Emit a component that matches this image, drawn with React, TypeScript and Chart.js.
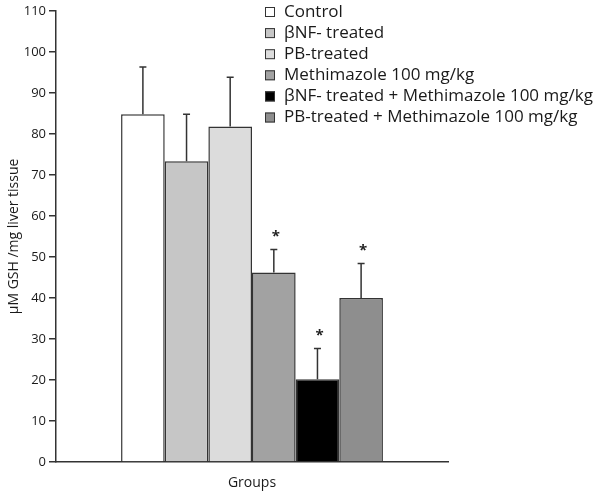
import React, { useEffect, useRef } from "react";
import { Chart, registerables } from "chart.js";

Chart.register(...registerables);

const groupLabels = ["Control", "βNF- treated", "PB-treated", "Methimazole 100 mg/kg", "βNF- treated + Methimazole 100 mg/kg", "PB-treated + Methimazole 100 mg/kg"];
const meanValues = [84.8, 73.3, 81.8, 46.2, 20.2, 40.0];
const errorValues = [11.5, 11.5, 12.0, 5.6, 7.5, 8.4];
const significant = [false, false, false, true, true, true];
const barColors = ["#ffffff", "#c6c6c6", "#dcdcdc", "#a2a2a2", "#000000", "#8e8e8e"];
const yTicks = [0, 10, 20, 30, 40, 50, 60, 70, 80, 90, 100, 110];

const FONT = "'Open Sans', 'Liberation Sans', sans-serif";
const INK = "#333333";

const errorBarPlugin = {
  id: "errorBars",
  afterDatasetsDraw(chart: any) {
    const ctx = chart.ctx;
    const y = chart.scales.y;
    ctx.save();
    chart.data.datasets.forEach((ds: any, i: number) => {
      const meta = chart.getDatasetMeta(i);
      const bar = meta.data[0];
      if (!bar) return;
      const x = bar.x;
      const yTop = y.getPixelForValue(meanValues[i]);
      const yErr = y.getPixelForValue(meanValues[i] + errorValues[i]);
      ctx.strokeStyle = INK;
      ctx.lineWidth = 1.5;
      ctx.beginPath();
      ctx.moveTo(x, yTop);
      ctx.lineTo(x, yErr);
      ctx.moveTo(x - 3.5, yErr);
      ctx.lineTo(x + 3.5, yErr);
      ctx.stroke();
      if (significant[i]) {
        ctx.fillStyle = "#222";
        ctx.font = `bold 15px ${FONT}`;
        ctx.textAlign = "center";
        ctx.textBaseline = "middle";
        ctx.fillText("*", x + 2, yErr - 13);
      }
    });
    ctx.restore();
  },
};

const legendPlugin = {
  id: "customLegend",
  afterDraw(chart: any) {
    const ctx = chart.ctx;
    ctx.save();
    const boxX = 265;
    const textX = 284;
    const startY = 12;
    const step = 21.1;
    chart.data.datasets.forEach((ds: any, i: number) => {
      const cy = startY + i * step;
      ctx.fillStyle = ds.backgroundColor;
      ctx.fillRect(boxX, cy - 5, 10, 10);
      ctx.strokeStyle = INK;
      ctx.lineWidth = 1;
      ctx.strokeRect(boxX + 0.5, cy - 4.5, 9, 9);
      ctx.fillStyle = "#1a1a1a";
      ctx.font = `17px ${FONT}`;
      ctx.textAlign = "left";
      ctx.textBaseline = "middle";
      ctx.fillText(ds.label, textX, cy);
    });
    ctx.restore();
  },
};

export default function App() {
  const canvasRef = useRef<HTMLCanvasElement | null>(null);

  useEffect(() => {
    if (!canvasRef.current) return;
    const chart = new Chart(canvasRef.current, {
      type: "bar",
      data: {
        labels: ["Groups"],
        datasets: groupLabels.map((label, i) => ({
          label,
          data: [meanValues[i]],
          backgroundColor: barColors[i],
          borderColor: INK,
          borderWidth: 1.5,
          barPercentage: 1,
          categoryPercentage: 0.668,
        })),
      },
      options: {
        animation: false,
        responsive: false,
        maintainAspectRatio: false,
        layout: { padding: { top: 10, right: 164, bottom: 0, left: 0 } },
        plugins: {
          legend: { display: false },
          tooltip: { enabled: false },
        },
        scales: {
          x: {
            grid: { display: false },
            border: { display: true, color: INK, width: 1.5 },
            ticks: { display: false },
            title: {
              display: true,
              text: "Groups",
              color: "#1a1a1a",
              font: { family: FONT, size: 14 },
              padding: { top: 4, bottom: 1 },
            },
            afterFit(scale: any) {
              scale.height = 30;
            },
          },
          y: {
            min: 0,
            max: 110,
            afterBuildTicks(scale: any) {
              scale.ticks = yTicks.map((v) => ({ value: v }));
            },
            grid: { display: true, drawOnChartArea: false, drawTicks: true, tickLength: 7, color: INK, lineWidth: 1.5 },
            border: { display: true, color: INK, width: 1.5 },
            ticks: { color: "#1a1a1a", font: { family: FONT, size: 13 }, padding: 3 },
            title: {
              display: true,
              text: "μM GSH /mg liver tissue",
              color: "#1a1a1a",
              font: { family: FONT, size: 14 },
              padding: { top: 6, bottom: 4 },
            },
            afterFit(scale: any) {
              scale.width = 56;
            },
          },
        },
      },
      plugins: [errorBarPlugin, legendPlugin],
    });
    return () => chart.destroy();
  }, []);

  return (
    <div style={{ position: "fixed", left: 0, top: 0, width: 612, height: 492, background: "#fff" }}>
      <canvas ref={canvasRef} width={612} height={492} style={{ width: 612, height: 492 }} />
    </div>
  );
}
